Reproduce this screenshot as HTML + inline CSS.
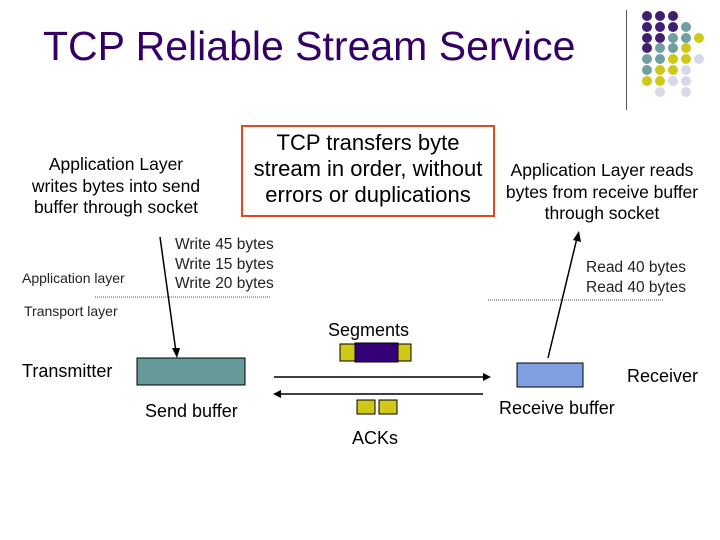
<!DOCTYPE html>
<html><head><style>
body{margin:0;width:720px;height:540px;background:#fff;position:relative;overflow:hidden;font-family:"Liberation Sans",sans-serif;}
.t{position:absolute;white-space:nowrap;color:#000;}
.c{text-align:center;}
</style></head><body>
<div class="t" style="left:43px;top:23px;font-size:41px;color:#330066;">TCP Reliable Stream Service</div>
<div style="position:absolute;left:626px;top:10px;width:1px;height:100px;background:#555"></div>
<svg width="720" height="540" style="position:absolute;left:0;top:0">
<g>
<circle cx="647" cy="16" r="5" fill="#3f1f6f"/><circle cx="660" cy="16" r="5" fill="#3f1f6f"/><circle cx="673" cy="16" r="5" fill="#3f1f6f"/>
<circle cx="647" cy="27" r="5" fill="#3f1f6f"/><circle cx="660" cy="27" r="5" fill="#3f1f6f"/><circle cx="673" cy="27" r="5" fill="#3f1f6f"/><circle cx="686" cy="27" r="5" fill="#6f9f9f"/>
<circle cx="647" cy="38" r="5" fill="#3f1f6f"/><circle cx="660" cy="38" r="5" fill="#3f1f6f"/><circle cx="673" cy="38" r="5" fill="#6f9f9f"/><circle cx="686" cy="38" r="5" fill="#6f9f9f"/><circle cx="699" cy="38" r="5" fill="#d0c818"/>
<circle cx="647" cy="48" r="5" fill="#3f1f6f"/><circle cx="660" cy="48" r="5" fill="#6f9f9f"/><circle cx="673" cy="48" r="5" fill="#6f9f9f"/><circle cx="686" cy="48" r="5" fill="#d0c818"/>
<circle cx="647" cy="59" r="5" fill="#6f9f9f"/><circle cx="660" cy="59" r="5" fill="#6f9f9f"/><circle cx="673" cy="59" r="5" fill="#d0c818"/><circle cx="686" cy="59" r="5" fill="#d0c818"/><circle cx="699" cy="59" r="5" fill="#d8d8e8"/>
<circle cx="647" cy="70" r="5" fill="#6f9f9f"/><circle cx="660" cy="70" r="5" fill="#d0c818"/><circle cx="673" cy="70" r="5" fill="#d0c818"/><circle cx="686" cy="70" r="5" fill="#d8d8e8"/>
<circle cx="647" cy="81" r="5" fill="#d0c818"/><circle cx="660" cy="81" r="5" fill="#d0c818"/><circle cx="673" cy="81" r="5" fill="#d8d8e8"/><circle cx="686" cy="81" r="5" fill="#d8d8e8"/>
<circle cx="660" cy="92" r="5" fill="#d8d8e8"/><circle cx="686" cy="92" r="5" fill="#d8d8e8"/>
</g>
<rect x="242" y="126" width="252" height="90" fill="none" stroke="#e04a20" stroke-width="2"/>
<line x1="95" y1="297" x2="270" y2="297" stroke="#555" stroke-dasharray="1,1"/>
<line x1="488" y1="300" x2="663" y2="300" stroke="#555" stroke-dasharray="1,1"/>
<line x1="160" y1="237" x2="176" y2="352" stroke="#000" stroke-width="1.5"/>
<polygon points="172,348 180,348 177,358" fill="#000"/>
<line x1="548" y1="358" x2="577" y2="238" stroke="#000" stroke-width="1.5"/>
<polygon points="573,240 581,242 579,231" fill="#000"/>
<rect x="137" y="358" width="108" height="27" fill="#669999" stroke="#000"/>
<rect x="517" y="363" width="66" height="24" fill="#7f9fe0" stroke="#000"/>
<rect x="340" y="344" width="17" height="17" fill="#d0c818" stroke="#000"/>
<rect x="396" y="344" width="15" height="17" fill="#d0c818" stroke="#000"/>
<rect x="355" y="343" width="43" height="19" fill="#330077" stroke="#000"/>
<rect x="357" y="400" width="18" height="14" fill="#d0c818" stroke="#000"/>
<rect x="379" y="400" width="18" height="14" fill="#d0c818" stroke="#000"/>
<line x1="274" y1="377" x2="484" y2="377" stroke="#000" stroke-width="1.5"/>
<polygon points="483,373 491,377 483,381" fill="#000"/>
<line x1="280" y1="394" x2="483" y2="394" stroke="#000" stroke-width="1.5"/>
<polygon points="281,390 273,394 281,398" fill="#000"/>
</svg>
<div class="t c" style="left:16px;top:154px;width:200px;font-size:17.5px;line-height:21.5px;">Application Layer<br>writes bytes into send<br>buffer through socket</div>
<div class="t c" style="left:243px;top:130px;width:250px;font-size:22px;line-height:26px;">TCP transfers byte<br>stream in order, without<br>errors or duplications</div>
<div class="t c" style="left:498px;top:160px;width:208px;font-size:17.5px;line-height:21.5px;">Application Layer reads<br>bytes from receive buffer<br>through socket</div>
<div class="t" style="left:175px;top:235px;font-size:15.5px;line-height:19.5px;color:#222">Write 45 bytes<br>Write 15 bytes<br>Write 20 bytes</div>
<div class="t" style="left:586px;top:258px;font-size:15.5px;line-height:19.5px;color:#222">Read 40 bytes<br>Read 40 bytes</div>
<div class="t" style="left:22px;top:270px;font-size:14px;color:#222">Application layer</div>
<div class="t" style="left:24px;top:303px;font-size:14px;color:#222">Transport layer</div>
<div class="t" style="left:328px;top:320px;font-size:18px;">Segments</div>
<div class="t" style="left:22px;top:361px;font-size:18px;">Transmitter</div>
<div class="t" style="left:627px;top:366px;font-size:18px;">Receiver</div>
<div class="t" style="left:145px;top:401px;font-size:18px;">Send buffer</div>
<div class="t" style="left:499px;top:398px;font-size:18px;">Receive buffer</div>
<div class="t" style="left:352px;top:428px;font-size:18px;">ACKs</div>
</body></html>
